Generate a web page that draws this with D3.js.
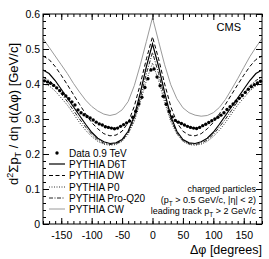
<!DOCTYPE html>
<html>
<head>
<meta charset="utf-8">
<script src="https://cdn.jsdelivr.net/npm/d3@7"></script>
<style>
  body { margin: 0; background: #fff; }
  text { font-family: "Liberation Sans", Arial, sans-serif; fill: #000; }
</style>
</head>
<body>
<div class="report"></div>
<script>
// data bins (bin centres, degrees)
var dataPhi = [-177.5, -172.5, -167.5, -162.5, -157.5, -152.5, -147.5, -142.5, -137.5, -132.5, -127.5, -122.5,
    -117.5, -112.5, -107.5, -102.5, -97.5, -92.5, -87.5, -82.5, -77.5, -72.5, -67.5, -62.5,
    -57.5, -52.5, -47.5, -42.5, -37.5, -32.5, -27.5, -22.5, -17.5, -12.5, -7.5, -2.5,
    2.5, 7.5, 12.5, 17.5, 22.5, 27.5, 32.5, 37.5, 42.5, 47.5, 52.5, 57.5,
    62.5, 67.5, 72.5, 77.5, 82.5, 87.5, 92.5, 97.5, 102.5, 107.5, 112.5, 117.5,
    122.5, 127.5, 132.5, 137.5, 142.5, 147.5, 152.5, 157.5, 162.5, 167.5, 172.5, 177.5];
var dataVal = [0.409, 0.406, 0.402, 0.396, 0.389, 0.381, 0.373, 0.366, 0.358, 0.349, 0.340, 0.326,
    0.318, 0.312, 0.307, 0.303, 0.297, 0.291, 0.286, 0.283, 0.278, 0.276, 0.274, 0.272,
    0.274, 0.279, 0.284, 0.289, 0.294, 0.305, 0.322, 0.343, 0.362, 0.390, 0.415, 0.440,
    0.443, 0.420, 0.395, 0.365, 0.342, 0.322, 0.306, 0.296, 0.291, 0.287, 0.283, 0.279,
    0.276, 0.274, 0.273, 0.276, 0.281, 0.285, 0.290, 0.295, 0.300, 0.305, 0.311, 0.318,
    0.327, 0.335, 0.343, 0.351, 0.359, 0.367, 0.376, 0.385, 0.392, 0.398, 0.403, 0.408];

// PYTHIA tunes, sampled every 10 degrees
var mcPhi = [-180, -170, -160, -150, -140, -130, -120, -110, -100, -90, -80, -70, -60, -50, -40, -30, -20, -10, 0,
    10, 20, 30, 40, 50, 60, 70, 80, 90, 100, 110, 120, 130, 140, 150, 160, 170, 180];
var d6t = [0.440, 0.430, 0.410, 0.385, 0.360, 0.335, 0.310, 0.285, 0.262, 0.245, 0.235, 0.230, 0.232, 0.241, 0.265, 0.308, 0.375, 0.450, 0.515,
    0.450, 0.375, 0.308, 0.265, 0.241, 0.232, 0.230, 0.235, 0.245, 0.262, 0.285, 0.310, 0.335, 0.360, 0.385, 0.410, 0.430, 0.440];
var dw = [0.480, 0.470, 0.450, 0.425, 0.398, 0.370, 0.342, 0.315, 0.290, 0.272, 0.258, 0.252, 0.254, 0.265, 0.290, 0.336, 0.400, 0.472, 0.535,
    0.472, 0.400, 0.336, 0.290, 0.265, 0.254, 0.252, 0.258, 0.272, 0.290, 0.315, 0.342, 0.370, 0.398, 0.425, 0.450, 0.470, 0.480];
var p0 = [0.400, 0.395, 0.380, 0.360, 0.340, 0.315, 0.290, 0.268, 0.250, 0.236, 0.228, 0.225, 0.227, 0.236, 0.257, 0.293, 0.348, 0.410, 0.460,
    0.410, 0.348, 0.293, 0.257, 0.236, 0.227, 0.225, 0.228, 0.236, 0.250, 0.268, 0.290, 0.315, 0.340, 0.360, 0.380, 0.395, 0.400];
var proq20 = [0.420, 0.410, 0.395, 0.372, 0.350, 0.325, 0.300, 0.277, 0.256, 0.240, 0.231, 0.227, 0.229, 0.238, 0.260, 0.300, 0.360, 0.430, 0.490,
    0.430, 0.360, 0.300, 0.260, 0.238, 0.229, 0.227, 0.231, 0.240, 0.256, 0.277, 0.300, 0.325, 0.350, 0.372, 0.395, 0.410, 0.420];
var cw = [0.530, 0.505, 0.480, 0.455, 0.430, 0.402, 0.377, 0.354, 0.336, 0.323, 0.314, 0.310, 0.314, 0.326, 0.350, 0.395, 0.455, 0.522, 0.590,
    0.522, 0.455, 0.398, 0.358, 0.332, 0.318, 0.311, 0.308, 0.310, 0.318, 0.333, 0.356, 0.385, 0.415, 0.447, 0.478, 0.505, 0.530];

var xTicks = [-150, -100, -50, 0, 50, 100, 150];
var yTicks = [0, 0.1, 0.2, 0.3, 0.4, 0.5, 0.6];

var series = [
    {name: "PYTHIA D6T", values: d6t, color: "#000", width: 1.2, dash: null},
    {name: "PYTHIA DW", values: dw, color: "#000", width: 1, dash: "4,2.5"},
    {name: "PYTHIA P0", values: p0, color: "#333", width: 1, dash: "1,1.5"},
    {name: "PYTHIA Pro-Q20", values: proq20, color: "#222", width: 1, dash: "4,1.5,1,1.5"},
    {name: "PYTHIA CW", values: cw, color: "#9a9a9a", width: 1, dash: null}
];

var svg = d3.select(".report").append("svg").attr("width", 269).attr("height", 259),
    pLeft = 43, pRight = 262, pTop = 14, pBottom = 224;

var x = d3.scaleLinear().domain([-180, 180]).range([pLeft, pRight]);
var y = d3.scaleLinear().domain([0, 0.6]).range([pBottom, pTop]);

var line = d3.line()
    .x(function(d) { return x(d[0]); })
    .y(function(d) { return y(d[1]); });

// mc curves (CW drawn first so it sits underneath)
series.slice().reverse().forEach(function(s) {
    svg.append("path")
        .datum(mcPhi.map(function(p, i) { return [p, s.values[i]]; }))
        .attr("d", line)
        .attr("fill", "none")
        .attr("stroke", s.color)
        .attr("stroke-width", s.width)
        .attr("stroke-dasharray", s.dash);
});

svg.append("g").selectAll("circle")
    .data(dataPhi)
    .enter().append("circle")
    .attr("cx", function(d) { return x(d); })
    .attr("cy", function(d, i) { return y(dataVal[i]); })
    .attr("r", 1.7)
    .attr("fill", "#000");

// axes, ROOT style ticks pointing inwards on all four sides
var minorX = d3.range(-180, 181, 10), minorY = d3.range(0, 0.601, 0.02);
var fmtY = function(d) { return d === 0 ? "0" : d3.format(".1f")(d); };

function axis(gen, scale, pos, major, minor, fmt, pad) {
    var g = svg.append("g").attr("transform", pos);
    g.call(gen(scale).tickValues(minor).tickSize(-3).tickFormat(""));
    var m = svg.append("g").attr("transform", pos)
        .call(gen(scale).tickValues(major).tickSize(-6).tickPadding(pad).tickFormat(fmt || ""));
    [g, m].forEach(function(a) {
        a.select(".domain").remove();
        a.selectAll("line").attr("stroke", "#000");
    });
    return m;
}

var xb = axis(d3.axisBottom, x, "translate(0," + pBottom + ")", xTicks, minorX, function(d) { return d; }, 8);
axis(d3.axisTop, x, "translate(0," + pTop + ")", xTicks, minorX, null, 3);
var yl = axis(d3.axisLeft, y, "translate(" + pLeft + ",0)", yTicks, minorY, fmtY, 3);
axis(d3.axisRight, y, "translate(" + pRight + ",0)", yTicks, minorY, null, 3);

xb.selectAll("text").attr("font-size", 10.5).attr("font-family", "Liberation Sans, Arial, sans-serif");
yl.selectAll("text").attr("font-size", 10.5).attr("font-family", "Liberation Sans, Arial, sans-serif");

svg.append("rect")
    .attr("x", pLeft).attr("y", pTop)
    .attr("width", pRight - pLeft).attr("height", pBottom - pTop)
    .attr("fill", "none").attr("stroke", "#000").attr("stroke-width", 1);

// titles
svg.append("text")
    .attr("x", 262).attr("y", 254)
    .attr("text-anchor", "end")
    .attr("font-size", 12.5)
    .text("\u0394\u03c6 [degrees]");

var yt = svg.append("text")
    .attr("transform", "translate(18,43) rotate(-90)")
    .attr("text-anchor", "end")
    .attr("font-size", 13);
yt.append("tspan").text("d");
yt.append("tspan").attr("dy", -5).attr("font-size", 9).text("2");
yt.append("tspan").attr("dy", 5).text("\u03a3p");
yt.append("tspan").attr("dy", 3).attr("font-size", 9).text("T");
yt.append("tspan").attr("dy", -3).text(" / d\u03b7 d(\u0394\u03c6) [GeV/c]");

svg.append("text")
    .attr("x", 241).attr("y", 31)
    .attr("text-anchor", "end")
    .attr("font-size", 11)
    .text("CMS");

// legend
var legY = [153, 164, 175.5, 187, 198, 209];
var leg = svg.append("g");
leg.append("circle").attr("cx", 57).attr("cy", legY[0]).attr("r", 1.7).attr("fill", "#000");
leg.append("text").attr("x", 69).attr("y", legY[0] + 3.6).attr("font-size", 10).text("Data 0.9 TeV");
series.forEach(function(s, i) {
    leg.append("line")
        .attr("x1", 49).attr("x2", 65)
        .attr("y1", legY[i + 1]).attr("y2", legY[i + 1])
        .attr("stroke", s.color)
        .attr("stroke-width", s.width)
        .attr("stroke-dasharray", s.dash);
    leg.append("text").attr("x", 69).attr("y", legY[i + 1] + 3.6).attr("font-size", 10).text(s.name);
});

// cuts
var c1 = svg.append("text").attr("x", 256).attr("y", 192).attr("text-anchor", "end").attr("font-size", 9);
c1.text("charged particles");
var c2 = svg.append("text").attr("x", 256).attr("y", 203).attr("text-anchor", "end").attr("font-size", 9);
c2.append("tspan").text("(p");
c2.append("tspan").attr("dy", 2.5).attr("font-size", 6.5).text("T");
c2.append("tspan").attr("dy", -2.5).text(" > 0.5 GeV/c, |\u03b7| < 2)");
var c3 = svg.append("text").attr("x", 256).attr("y", 214).attr("text-anchor", "end").attr("font-size", 9);
c3.append("tspan").text("leading track p");
c3.append("tspan").attr("dy", 2.5).attr("font-size", 6.5).text("T");
c3.append("tspan").attr("dy", -2.5).text(" > 2 GeV/c");
</script>
</body>
</html>
